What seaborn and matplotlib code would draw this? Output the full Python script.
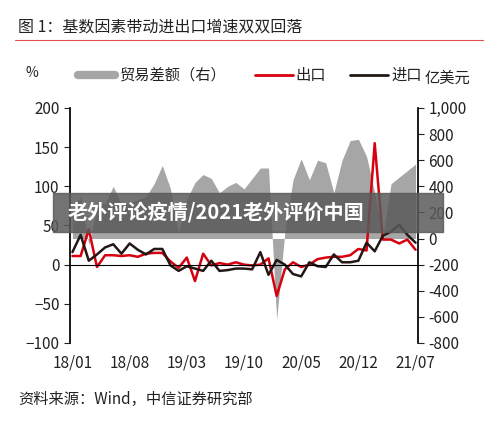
import numpy as np
import pandas as pd
import matplotlib
matplotlib.use("Agg")
import matplotlib.pyplot as plt
import seaborn as sns

sns.set_theme(style="white")
plt.rcParams['font.family'] = ['Noto Sans CJK SC', 'DejaVu Sans']

tick_labels = ['18/01', '18/08', '19/03', '19/10', '20/05', '20/12', '21/07']
exports = [11, 11, 45, -3, 12, 12, 11, 12, 10, 14, 15, 15, 4, -4, 9, -21, 14, -1, 2, 0, 3, 0,
           -1, 0, 8, -40, -6, 3, -3, 0, 7, 9, 10, 10, 12, 20, 18, 155, 32, 32, 27, 32, 19]
imports = [16, 38, 5, 13, 22, 26, 14, 27, 19, 13, 20, 20, -1, -8, -2, -5, -8, 5, -8, -7, -5, -5,
           -6, 16, -13, 6, 0, -12, -15, 3, -2, -3, 13, 3, 3, 5, 28, 17, 37, 42, 51, 38, 28]
balance = [200, 330, -50, 250, 270, 400, 260, 270, 300, 320, 420, 560, 380, 45, 300, 430, 490, 460,
           350, 400, 430, 380, 460, 540, 540, -620, 50, 450, 610, 450, 600, 580, 350, 600, 750, 760,
           630, 350, 20, 420, 470, 520, 570]

n = len(exports)
df = pd.DataFrame({'t': np.arange(n), 'exp': exports, 'imp': imports, 'bal': balance})

fig = plt.figure(figsize=(5, 4.25), dpi=100)
ax = fig.add_axes([0.14, 0.193, 0.696, 0.553])
ax2 = ax.twinx()
ax.set_zorder(ax2.get_zorder() + 1)
ax.patch.set_visible(False)

ax2.fill_between(df['t'], 0, df['bal'], color='#a6a6a6', lw=0)
ax2.set_ylim(-800, 1000)
ax2.set_yticks(range(-800, 1001, 200))
ax2.set_yticklabels([f'{v:,}' for v in range(-800, 1001, 200)])

sns.lineplot(data=df, x='t', y='exp', ax=ax, color='#d7000f', lw=1.8)
sns.lineplot(data=df, x='t', y='imp', ax=ax, color='#231815', lw=1.8)
ax.axhline(0, color='black', lw=0.8)
ax.set_ylim(-100, 200)
ax.set_yticks(range(-100, 201, 50))
ax.set_xlim(-0.3, n - 0.7)
ax.set_xticks(range(0, n, 7))
ax.set_xticklabels(tick_labels)
ax.set_xlabel('')
ax.set_ylabel('')
for a in (ax, ax2):
    a.tick_params(labelsize=11, colors='#222222', length=4, width=0.8)
    a.spines['top'].set_visible(False)
    a.spines['bottom'].set_visible(False)
ax.spines['right'].set_visible(False)
ax.spines['left'].set_color('black')
ax2.spines['right'].set_color('black')
ax2.spines['left'].set_visible(False)
ax.tick_params(axis='y', left=True, direction='out')
ax2.tick_params(axis='y', right=True, direction='out')
ax.tick_params(axis='x', length=0, pad=8)

# header
fig.text(0.036, 0.925, '图 1：基数因素带动进出口增速双双回落', fontsize=11.5, color='#222222')
fig.add_artist(plt.Line2D([0.03, 0.965], [0.905, 0.905], color='#e05050', lw=0.8))
fig.text(0.05, 0.818, '%', fontsize=10, color='#222222')
fig.add_artist(plt.Line2D([0.155, 0.23], [0.823, 0.823], color='#a6a6a6', lw=6))
fig.text(0.24, 0.812, '贸易差额（右）', fontsize=11, color='#222222')
fig.add_artist(plt.Line2D([0.51, 0.585], [0.823, 0.823], color='#d7000f', lw=2))
fig.text(0.59, 0.812, '出口', fontsize=11, color='#222222')
fig.add_artist(plt.Line2D([0.7, 0.775], [0.823, 0.823], color='#231815', lw=2))
fig.text(0.782, 0.812, '进口', fontsize=11, color='#222222')
fig.text(0.85, 0.805, '亿美元', fontsize=11, color='#222222')
fig.text(0.036, 0.05, '资料来源：Wind，中信证券研究部', fontsize=11, color='#222222')

# watermark banner
fig.add_artist(plt.Rectangle((0.105, 0.455), 0.78, 0.09, transform=fig.transFigure,
                             color='#5a5a5a', alpha=0.85, zorder=10))
fig.text(0.135, 0.5, '老外评论疫情/2021老外评价中国', fontsize=14.5, fontweight='bold',
         color='white', va='center', zorder=11)

fig.savefig('out.png', dpi=100)
